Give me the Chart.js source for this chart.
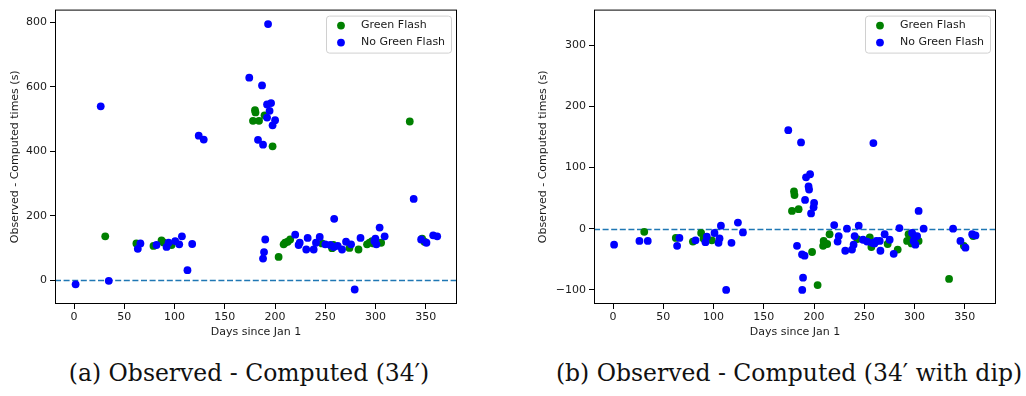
<!DOCTYPE html>
<html>
<head>
<meta charset="utf-8">
<script src="https://cdn.jsdelivr.net/npm/chart.js@4.4.1/dist/chart.umd.min.js"></script>
<style>
  html, body { margin: 0; padding: 0; background: #fff; }
  #wrap { position: relative; width: 1026px; height: 396px; overflow: hidden; }
  .box { position: absolute; top: 0; height: 345px; }
  .cap { position: absolute; top: 359px; font-family: "DejaVu Serif", serif; font-size: 23.5px; line-height: 28px; color: #111; white-space: nowrap; transform: translateX(-50%); }
</style>
</head>
<body>
<div id="wrap">
  <div class="box" style="left:0;width:470px"><canvas id="chartA"></canvas></div>
  <div class="box" style="left:520px;width:500px"><canvas id="chartB"></canvas></div>
  <div class="cap" style="left:249px">(a) Observed - Computed (34′)</div>
  <div class="cap" style="left:789px">(b) Observed - Computed (34′ with dip)</div>
</div>
<script>
// tick values
const xTicks = [0, 50, 100, 150, 200, 250, 300, 350];
const yTicksA = [0, 200, 400, 600, 800];
const yTicksB = [-100, 0, 100, 200, 300];
const seriesNames = ['Green Flash', 'No Green Flash'];

// (a) 34' -- [day, seconds]
const greenA = [[31,137],[62,115],[79,107],[87,124],[89,118],[97,110],[178,495],[180,528],[180.5,521],[184,495],
  [189.5,512],[197.5,416],[203.5,73],[208.5,112],[210,117],[212.5,120],[215,127],[246.7,115],[256.7,100],[258,110],
  [274,101],[283,96],[291.5,112],[294,117],[296.5,122],[298,115],[305.5,117],[334,493],[346.3,130],[348.6,120]];
const blueA = [[1.5,-12],[26.5,540],[34.5,-1],[63.4,98],[66,115],[82,110],[92,104],[94,117],[100.6,122],[104.6,112],
  [107.3,137],[112.8,32],[117.5,113],[124,449],[129,437],[174.3,629],[183,436],[187,605],[188,421],[188,68],
  [189,88],[190.2,127],[192,546],[192,505],[193,795],[194.5,526],[196,550],[197.5,481],[200,497],[220,142],
  [223.4,110],[224.5,117],[231,96],[232.4,132],[238.4,96],[240.7,117],[244.4,135],[250,112],[255,110],[258.8,191],
  [258.3,104],[262.3,107],[266.6,96],[270.6,120],[275.6,112],[279.2,-28],[285,132],[298.8,122],[299.8,130],[300.8,112],
  [304,164],[309,137],[337.9,253],[345.3,127],[350.6,117],[357.3,140],[361.3,137]];

// (b) 34' with dip -- [day, seconds]
const greenB = [[31,-5],[62.4,-15],[79.4,-21],[87.6,-7],[90,-16],[98.3,-19],[178,29],[180,61],[180.5,55],[184.6,32],
  [198,-38],[203.5,-92],[209,-28],[209.5,-20],[213,-25],[215.4,-9],[243,-17],[255.4,-14],[257,-30],[273.2,-25],
  [283.2,-34],[292.5,-20],[294,-9],[295.8,-12],[297,-24],[304,-20],[334.3,-82],[349,-28],[358.3,-12]];
const blueB = [[1,-26],[26.2,-20],[34.5,-20],[63.7,-28],[66,-15],[82,-19],[91.9,-22],[93.3,-13],[100.9,-7],[104.9,-23],
  [105.9,-16],[107.3,5],[112.5,-100],[117.8,-23],[124.2,10],[129.2,-6],[174.3,161],[183,-28],[187,141],[188,-42],
  [188.2,-100],[189,-80],[190.5,-44],[191,47],[192,84],[194.5,69],[195,64],[196,89],[197,25],[199.5,35],
  [200,42],[220,6],[223.4,-21],[224.5,-12],[231,-36],[232.7,0],[237.7,-34],[239.3,-26],[240.3,-12],[244.4,5],
  [248.7,-18],[252.7,-21],[257.7,-23],[259,140],[260,-24],[262,-20],[265.3,-20],[266,-36],[270.2,-9],[275.2,-18],
  [279.2,-41],[284.9,1],[297.5,-7],[299,-20],[299.8,-12],[300.8,-26],[302.5,-12],[304,29],[309,0],[338.3,0],
  [345.6,-20],[350.6,-31],[357.3,-9],[360.6,-11]];

const FONT = '"DejaVu Sans", sans-serif';
const TXT = '#1a1a1a';

// frame, zero line and matplotlib-like legend
const mplDecor = {
  id: 'mplDecor',
  beforeDatasetsDraw(chart) {
    const { ctx, chartArea: a, scales: { y } } = chart;
    const y0 = Math.round(y.getPixelForValue(0)) + 0.5;
    ctx.save();
    ctx.strokeStyle = '#1f77b4';
    ctx.lineWidth = 1.5;
    ctx.setLineDash([6, 2.6]);
    ctx.beginPath();
    ctx.moveTo(a.left, y0);
    ctx.lineTo(a.right, y0);
    ctx.stroke();
    ctx.restore();
  },
  afterDraw(chart) {
    const { ctx, chartArea: a } = chart;
    ctx.save();
    ctx.strokeStyle = '#000';
    ctx.lineWidth = 1;
    ctx.strokeRect(a.left + 0.5, a.top + 0.5, a.right - a.left - 1, a.bottom - a.top - 1);

    const w = 125, h = 37;
    const bx = a.right - 6 - w, by = a.top + 6;
    ctx.fillStyle = 'rgba(255,255,255,0.8)';
    ctx.strokeStyle = '#d0d0d0';
    ctx.beginPath();
    ctx.roundRect(bx + 0.5, by + 0.5, w, h, 3);
    ctx.fill();
    ctx.stroke();
    ctx.font = '11px ' + FONT;
    ctx.textBaseline = 'middle';
    chart.data.datasets.forEach((ds, i) => {
      const cy = by + 10 + i * 17;
      ctx.fillStyle = ds.backgroundColor;
      ctx.beginPath();
      ctx.arc(bx + 15, cy, 3.9, 0, Math.PI * 2);
      ctx.fill();
      ctx.fillStyle = TXT;
      ctx.fillText(ds.label, bx + 35, cy);
    });
    ctx.restore();
  }
};

function makeChart(id, green, blue, yTicks, yMin, yMax, yWidth, padRight, titlePad) {
  const toPts = arr => arr.map(p => ({ x: p[0], y: p[1] }));
  return new Chart(document.getElementById(id), {
    type: 'scatter',
    data: {
      datasets: [
        { label: seriesNames[0], data: toPts(green), backgroundColor: '#008000', order: 2 },
        { label: seriesNames[1], data: toPts(blue), backgroundColor: '#0000ff', order: 1 }
      ]
    },
    options: {
      responsive: true,
      maintainAspectRatio: false,
      animation: false,
      events: [],
      layout: { padding: { left: 0, right: padRight, top: 4, bottom: 0 } },
      elements: { point: { radius: 3.9, borderWidth: 0, hoverRadius: 3.9 } },
      plugins: { legend: { display: false }, tooltip: { enabled: false } },
      scales: {
        x: {
          type: 'linear', min: -19, max: 381,
          afterBuildTicks: s => { s.ticks = xTicks.map(v => ({ value: v })); },
          afterFit: s => { s.height = 41; },
          grid: { drawOnChartArea: false, drawTicks: true, tickLength: 5, color: '#000' },
          border: { display: false },
          ticks: { font: { family: FONT, size: 11 }, color: TXT, padding: 2, maxRotation: 0 },
          title: { display: true, text: 'Days since Jan 1', font: { family: FONT, size: 11 }, color: TXT, padding: { top: 0, bottom: 6 } }
        },
        y: {
          type: 'linear', min: yMin, max: yMax,
          afterBuildTicks: s => { s.ticks = yTicks.map(v => ({ value: v })); },
          afterFit: s => { s.width = yWidth; },
          grid: { drawOnChartArea: false, drawTicks: true, tickLength: 5, color: '#000' },
          border: { display: false },
          ticks: { font: { family: FONT, size: 11 }, color: TXT, padding: 3,
            callback: v => String(v).replace('-', '\u2212') },
          title: { display: true, text: 'Observed - Computed times (s)', font: { family: FONT, size: 11 }, color: TXT, padding: titlePad }
        }
      }
    },
    plugins: [mplDecor]
  });
}

makeChart('chartA', greenA, blueA, yTicksA, -73, 840, 55, 13, { top: 9, bottom: 0 });
makeChart('chartB', greenB, blueB, yTicksB, -123, 358, 74, 24, { top: 17, bottom: 0 });
</script>
</body>
</html>
